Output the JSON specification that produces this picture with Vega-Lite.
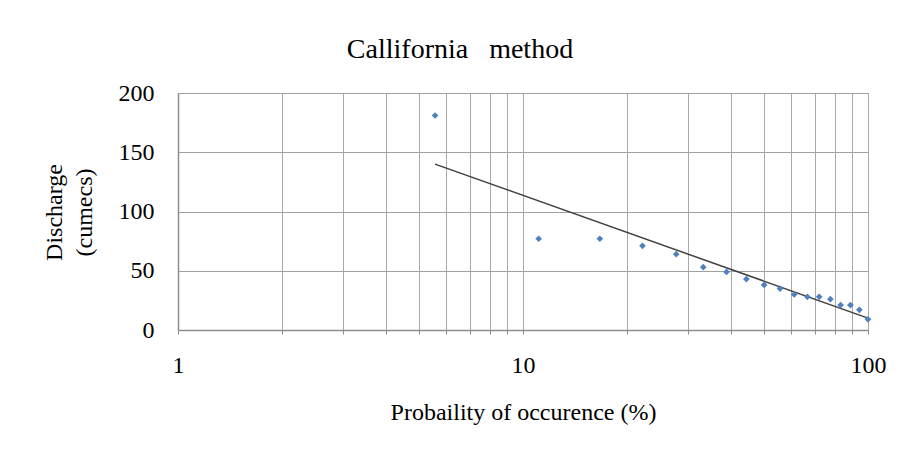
{
  "$schema": "https://vega.github.io/schema/vega-lite/v6.json",
  "width": 690,
  "height": 237,
  "autosize": "none",
  "padding": {"left": 178, "top": 93, "right": 34, "bottom": 128},
  "background": "white",
  "config": {
    "font": "Liberation Serif",
    "view": {"stroke": "#8c8c8c", "strokeWidth": 1}
  },
  "title": {
    "text": "Callifornia\u00a0\u00a0\u00a0method",
    "font": "Liberation Serif",
    "fontSize": 28,
    "fontWeight": "normal",
    "color": "#000000",
    "anchor": "middle",
    "dx": -63,
    "offset": 17
  },
  "datasets": {
    "obs": [
      {"p": 5.56, "q": 181},
      {"p": 11.1, "q": 77},
      {"p": 16.7, "q": 77},
      {"p": 22.2, "q": 71},
      {"p": 27.8, "q": 64},
      {"p": 33.3, "q": 53},
      {"p": 38.9, "q": 49},
      {"p": 44.4, "q": 43},
      {"p": 50.0, "q": 38},
      {"p": 55.6, "q": 35},
      {"p": 61.1, "q": 30},
      {"p": 66.7, "q": 28},
      {"p": 72.2, "q": 28},
      {"p": 77.8, "q": 26},
      {"p": 83.3, "q": 21},
      {"p": 88.9, "q": 21},
      {"p": 94.4, "q": 17},
      {"p": 100, "q": 9}
    ],
    "trend": [
      {"p": 5.56, "q": 140},
      {"p": 100, "q": 10}
    ]
  },
  "layer": [
    {
      "data": {"name": "trend"},
      "mark": {"type": "line", "color": "#404040", "strokeWidth": 1.5},
      "encoding": {
        "x": {"field": "p", "type": "quantitative"},
        "y": {"field": "q", "type": "quantitative"}
      }
    },
    {
      "data": {"name": "obs"},
      "mark": {"type": "point", "shape": "diamond", "filled": true, "color": "#4f81bd", "size": 45, "opacity": 1},
      "encoding": {
        "x": {
          "field": "p",
          "type": "quantitative",
          "scale": {"type": "log", "domain": [1, 100], "nice": false},
          "axis": {
            "title": "Probaility of occurence (%)",
            "titleFont": "Liberation Serif",
            "titleFontSize": 24,
            "titleFontWeight": "normal",
            "titleColor": "#000000",
            "titlePadding": 23,
            "values": [1, 2, 3, 4, 5, 6, 7, 8, 9, 10, 20, 30, 40, 50, 60, 70, 80, 90, 100],
            "labelExpr": "datum.value == 1 || datum.value == 10 || datum.value == 100 ? datum.label : ''",
            "labelFont": "Liberation Serif",
            "labelFontSize": 24,
            "labelColor": "#000000",
            "labelPadding": 19,
            "labelFlush": false,
            "labelOverlap": false,
            "grid": true,
            "gridColor": "#a8a8a8",
            "gridWidth": 1,
            "domainColor": "#8c8c8c",
            "domainWidth": 1.5,
            "ticks": true,
            "tickSize": 4,
            "tickColor": "#8c8c8c"
          }
        },
        "y": {
          "field": "q",
          "type": "quantitative",
          "scale": {"domain": [0, 200], "nice": false},
          "axis": {
            "title": ["Discharge", "(cumecs)"],
            "titleFont": "Liberation Serif",
            "titleFontSize": 24,
            "titleFontWeight": "normal",
            "titleColor": "#000000",
            "titleLineHeight": 30,
            "titleX": -112,
            "titleY": 119,
            "titleAngle": -90,
            "titleAlign": "center",
            "titleBaseline": "bottom",
            "values": [0, 50, 100, 150, 200],
            "labelFont": "Liberation Serif",
            "labelFontSize": 24,
            "labelColor": "#000000",
            "labelPadding": 24,
            "grid": true,
            "gridColor": "#a0a0a0",
            "gridWidth": 1,
            "domainColor": "#8c8c8c",
            "domainWidth": 1.5,
            "ticks": false
          }
        }
      }
    }
  ]
}
